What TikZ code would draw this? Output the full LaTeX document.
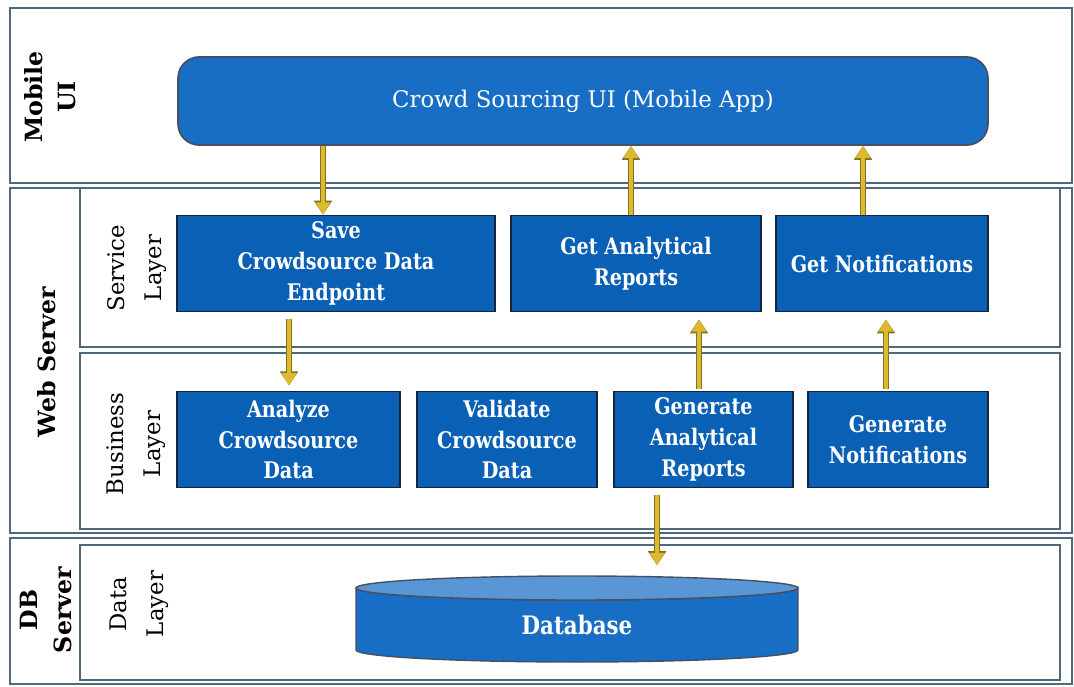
\documentclass[tikz,border=0pt]{standalone}
\usepackage{fontspec}
\setmainfont{DejaVu Serif}
\newfontfamily\boxfont{DejaVu Serif}[FakeStretch=0.84]
\usepackage{tikz}
\usetikzlibrary{arrows.meta,positioning}
\definecolor{compblue}{RGB}{10,96,180}
\definecolor{uiblue}{RGB}{24,110,196}
\definecolor{compedge}{RGB}{22,36,60}
\definecolor{tieredge}{RGB}{78,104,124}
\definecolor{flowgold}{RGB}{222,186,42}
\definecolor{flowedge}{RGB}{130,112,40}
\definecolor{dbtop}{RGB}{88,150,214}

\tikzset{
    tier/.style={draw=tieredge, line width=1pt},
    layer/.style={draw=tieredge, line width=0.8pt},
    comp/.style={draw=compedge, line width=1pt, fill=compblue, text=white,
        font=\boxfont\bfseries\fontsize{13}{17.5}\selectfont, align=center,
        minimum height=1.92cm, inner sep=2pt},
    tierlabel/.style={rotate=90, align=center, font=\bfseries\fontsize{13.5}{19}\selectfont},
    layerlabel/.style={rotate=90, align=center, font=\fontsize{13}{21}\selectfont},
    flow/.style={draw=flowgold, line width=2.2pt, -{Triangle[length=7pt,width=8pt]},
        preaction={draw=flowedge, line width=3.4pt, -{Triangle[length=8pt,width=10pt]}}},
}

\begin{document}
\begin{tikzpicture}[x=0.02cm, y=-0.02cm]
\useasboundingbox (0,0) rectangle (1074,686);

% Tiers
\draw[tier] (10,8) rectangle (1072,183);
\draw[tier] (10,188) rectangle (1072,533);
\draw[tier] (10,538) rectangle (1072,684);

% Layers
\draw[layer] (80,188) rectangle (1060,347);
\draw[layer] (80,353) rectangle (1060,529);
\draw[layer] (80,545) rectangle (1060,680);

% Tier and layer labels
\node[tierlabel] (lmobile) at (50,97) {Mobile\\UI};
\node[tierlabel] (lweb) at (47,362) {Web Server};
\node[tierlabel] (ldb) at (46,610) {DB\\Server};
\node[layerlabel] (lservice) at (137,268) {Service\\Layer};
\node[layerlabel] (lbusiness) at (136,444) {Business\\Layer};
\node[layerlabel] (ldata) at (139,604) {Data\\Layer};

% Mobile app
\node[draw=compedge!80, line width=1pt, fill=uiblue, text=white, rounded corners=12pt,
      minimum width=16.2cm, minimum height=1.76cm, font=\fontsize{13}{16}\selectfont]
      (ui) at (583,101) {\raisebox{-3pt}{Crowd Sourcing UI (Mobile App)}};

% Service layer
\node[comp, minimum width=6.36cm] (save) at (336,263.5) {Save\\Crowdsource Data\\Endpoint};
\node[comp, minimum width=5.0cm] (getrep) at (636,263.5) {Get Analytical\\Reports};
\node[comp, minimum width=4.24cm] (getnot) at (882,263.5) {Get Notifications};

% Business layer
\node[comp, minimum width=4.46cm] (analyze) at (288.5,439.5) {Analyze\\Crowdsource\\Data};
\node[comp, minimum width=3.6cm] (validate) at (507,439.5) {Validate\\Crowdsource\\Data};
\node[comp, minimum width=3.58cm] (genrep) at (703.5,439.5) {Generate\\Analytical\\Reports};
\node[comp, minimum width=3.6cm] (gennot) at (898,439.5) {Generate\\Notifications};

% Database cylinder
\fill[uiblue, draw=compedge!80, line width=0.8pt] (356,588) -- (356,650)
    arc[start angle=180, end angle=360, x radius=4.42cm, y radius=0.24cm]
    -- (798,588) arc[start angle=0, end angle=-180, x radius=4.42cm, y radius=0.24cm] -- cycle;
\draw[fill=dbtop, draw=compedge!80, line width=0.8pt] (577,588) ellipse[x radius=4.42cm, y radius=0.24cm];
\node[text=white, font=\boxfont\bfseries\fontsize{14.5}{16}\selectfont] (db) at (577,625) {Database};
\coordinate (dbtopedge) at (577,574);

% Flows
\draw[flow] (ui.south -| 323,0) -- (save.north -| 323,0);
\draw[flow] ([yshift=-4pt]save.south -| 289,0) -- ([yshift=3pt]analyze.north -| 289,0);
\draw[flow] (getrep.north -| 631,0) -- (ui.south -| 631,0);
\draw[flow] (getnot.north -| 863,0) -- (ui.south -| 863,0);
\draw[flow] ([yshift=1pt]genrep.north -| 699,0) -- ([yshift=-4pt]getrep.south -| 699,0);
\draw[flow] ([yshift=1pt]gennot.north -| 886,0) -- ([yshift=-4pt]getnot.south -| 886,0);
\draw[flow] ([yshift=-4pt]genrep.south -| 657,0) -- ([yshift=5pt]dbtopedge -| 657,0);
\end{tikzpicture}
\end{document}
